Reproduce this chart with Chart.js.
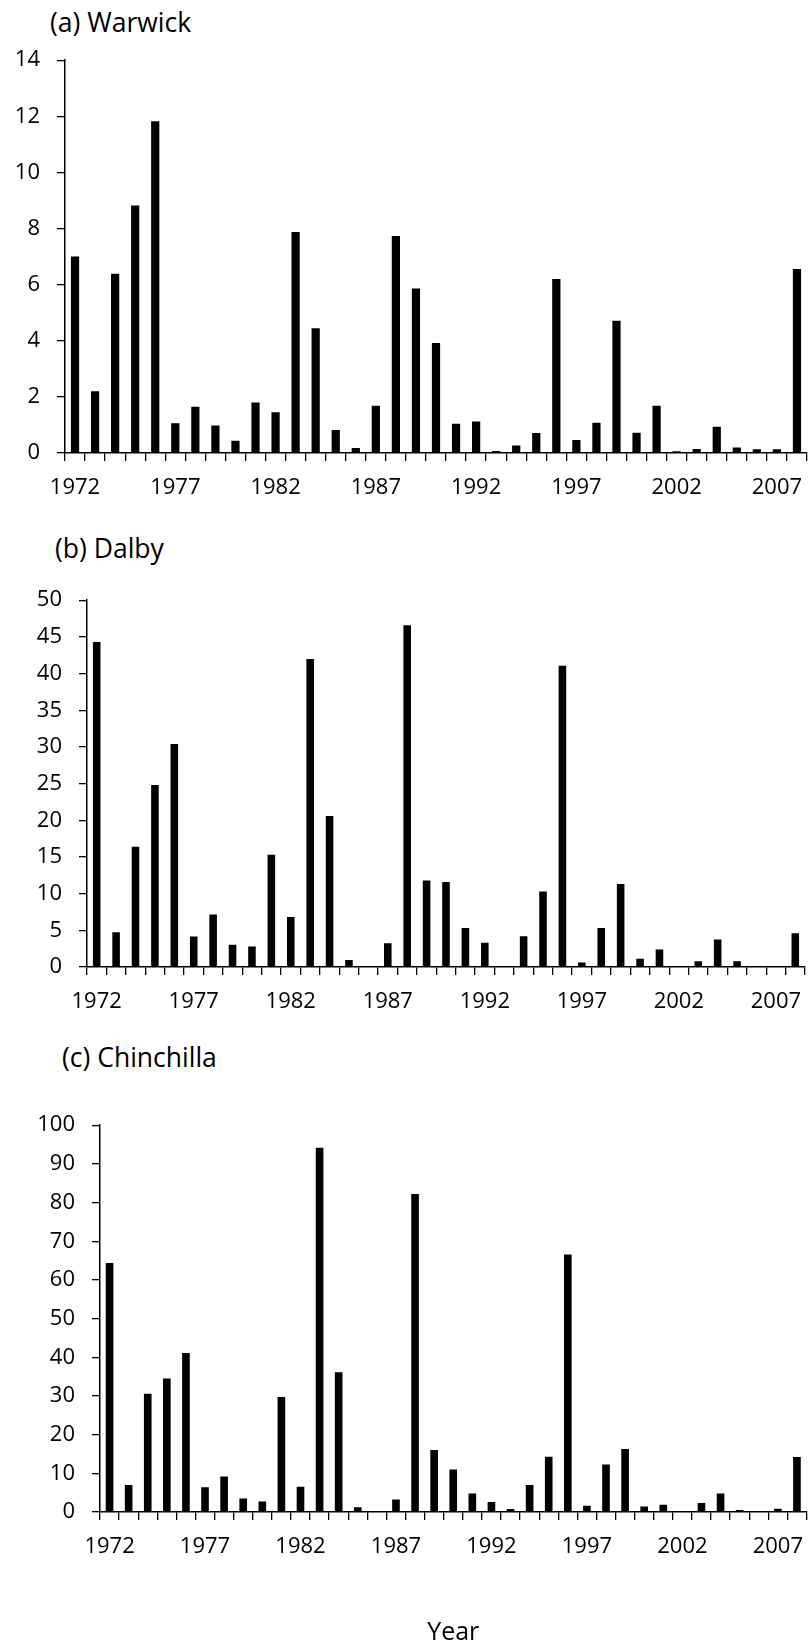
<!DOCTYPE html>
<html lang="en">
<head>
<meta charset="UTF-8" />
<title>Annual values by year - Warwick, Dalby, Chinchilla</title>
<script src="https://cdn.jsdelivr.net/npm/chart.js"></script>
<style>
  body { margin: 0; background: #fff; overflow: hidden; }
  .page { position: relative; width: 811px; height: 1645px; font-family: "Open Sans", sans-serif; color: #000; }
  canvas { position: absolute; left: 0; }
  .panel-title { position: absolute; font-size: 26.5px; line-height: 27px; white-space: nowrap; }
</style>
</head>
<body>
<div class="page">
  <div class="panel-title" style="left:50px; top:9px">(a) Warwick</div>
  <canvas id="warwick" width="811" height="473" style="top:30px"></canvas>

  <div class="panel-title" style="left:55px; top:535px">(b) Dalby</div>
  <canvas id="dalby" width="811" height="447" style="top:570px"></canvas>

  <div class="panel-title" style="left:62px; top:1044px">(c) Chinchilla</div>
  <canvas id="chinchilla" width="811" height="550" style="top:1095px"></canvas>
</div>
<script>
const years = ['1972','1973','1974','1975','1976','1977','1978','1979','1980','1981',
  '1982','1983','1984','1985','1986','1987','1988','1989','1990','1991',
  '1992','1993','1994','1995','1996','1997','1998','1999','2000','2001',
  '2002','2003','2004','2005','2006','2007','2008'];
const shownYears = ['1972','1977','1982','1987','1992','1997','2002','2007'];

const warwick = [7.0, 2.2, 6.39, 8.82, 11.82, 1.06, 1.65, 0.98, 0.44, 1.8,
  1.45, 7.88, 4.45, 0.82, 0.18, 1.68, 7.73, 5.86, 3.92, 1.04,
  1.12, 0.07, 0.27, 0.71, 6.2, 0.46, 1.08, 4.71, 0.72, 1.68,
  0.06, 0.14, 0.94, 0.2, 0.13, 0.13, 6.56];
const dalby = [44.3, 4.74, 16.4, 24.8, 30.4, 4.16, 7.14, 3.03, 2.8, 15.3,
  6.82, 42.0, 20.6, 0.95, 0.14, 3.25, 46.6, 11.8, 11.6, 5.3,
  3.3, 0, 4.2, 10.3, 41.06, 0.63, 5.3, 11.3, 1.13, 2.4,
  0, 0.77, 3.75, 0.77, 0, 0, 4.6];
const chinchilla = [64.4, 7.0, 30.6, 34.5, 41.1, 6.4, 9.2, 3.5, 2.7, 29.7,
  6.5, 94.2, 36.1, 1.2, 0, 3.2, 82.2, 16.0, 11.0, 4.8,
  2.6, 0.8, 7.0, 14.3, 66.6, 1.6, 12.3, 16.3, 1.4, 1.9,
  0, 2.3, 4.8, 0.5, 0, 0.85, 14.2];

Chart.defaults.color = '#000';
Chart.defaults.font.family = '"Open Sans", sans-serif';
Chart.defaults.font.size = 22;

function barPanel(id, values, yMax, yStep, box) {
  const ctx = document.getElementById(id).getContext('2d');
  return new Chart(ctx, {
    type: 'bar',
    data: {
      labels: years,
      datasets: [{
        data: values,
        backgroundColor: '#000',
        borderWidth: 0,
        barPercentage: box.bar,
        categoryPercentage: 1
      }]
    },
    options: {
      responsive: false,
      animation: false,
      layout: { padding: { top: box.top, right: box.right, bottom: 0, left: 0 } },
      plugins: { legend: { display: false }, tooltip: { enabled: false } },
      scales: {
        x: {
          grid: { offset: true, drawOnChartArea: false, drawTicks: true, tickLength: 8, color: '#000', lineWidth: 1.3 },
          border: { color: '#000', width: 1.5 },
          ticks: {
            autoSkip: false,
            maxRotation: 0,
            padding: 14,
            callback: function(value, index) {
              return shownYears.includes(years[index]) ? years[index] : '';
            }
          },
          title: box.xTitle ? { display: true, text: box.xTitle, font: { size: 25, lineHeight: 1 }, padding: { top: 0, bottom: 0 } } : { display: false },
          afterFit: function(scale) { scale.height = box.xHeight; }
        },
        y: {
          min: 0,
          max: yMax,
          grid: { drawOnChartArea: false, drawTicks: true, tickLength: 8, color: '#000', lineWidth: 1.3 },
          border: { color: '#000', width: 1.5 },
          ticks: { stepSize: yStep, padding: 17 },
          afterFit: function(scale) { scale.width = box.left; }
        }
      }
    }
  });
}

barPanel('warwick', warwick, 14, 2, { top: 27, right: 2, left: 65, xHeight: 50, bar: 0.41 });
barPanel('dalby', dalby, 50, 5, { top: 28, right: 6, left: 87, xHeight: 50, bar: 0.39 });
barPanel('chinchilla', chinchilla, 100, 10, { top: 27, right: 4, left: 100, xHeight: 133, bar: 0.4, xTitle: 'Year' });
</script>
</body>
</html>
